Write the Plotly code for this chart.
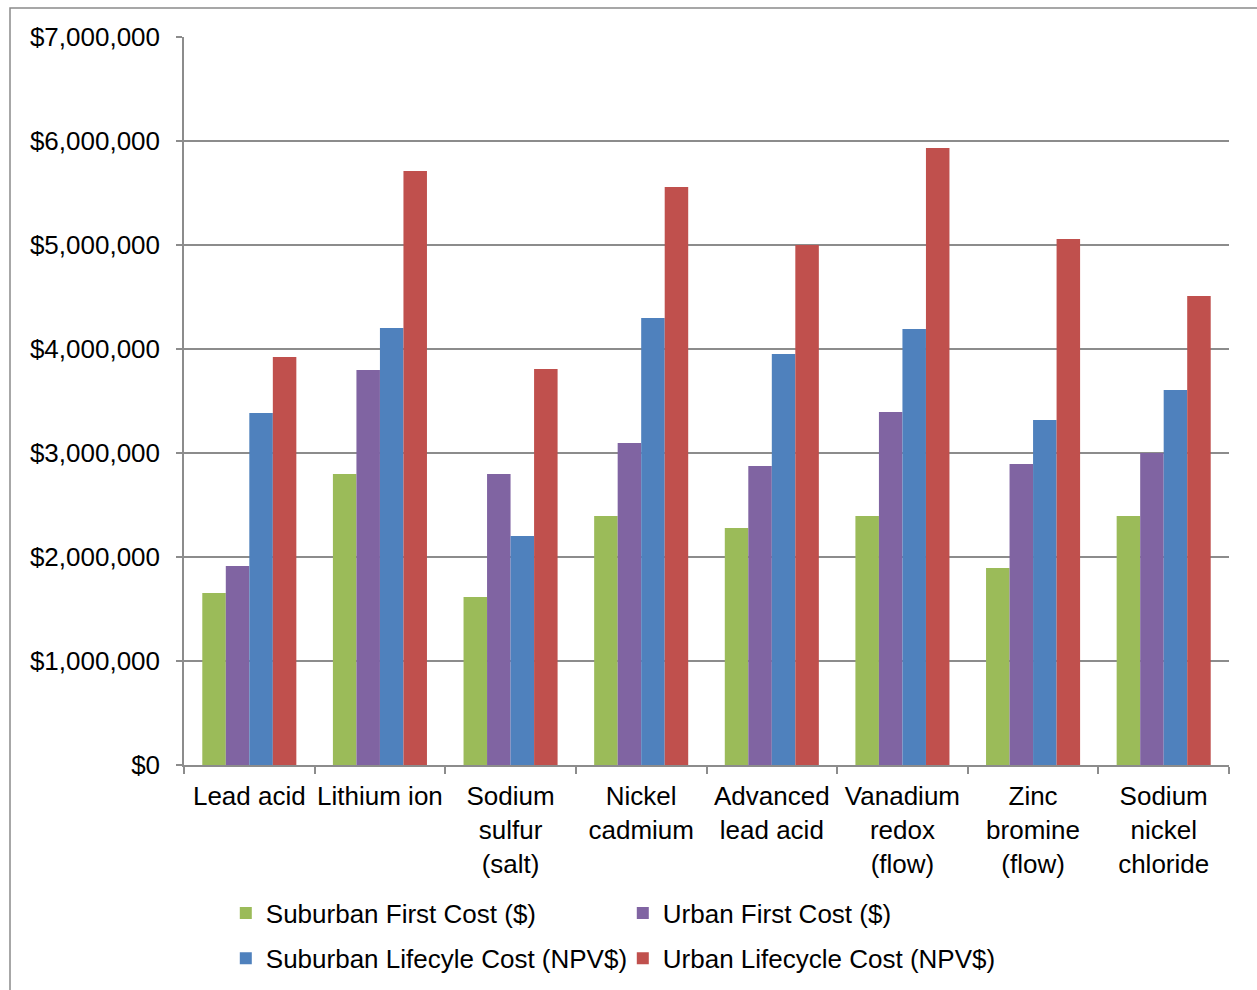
import plotly.graph_objects as go

categories = [
    "Lead acid", "Lithium ion", "Sodium<br>sulfur<br>(salt)", "Nickel<br>cadmium",
    "Advanced<br>lead acid", "Vanadium<br>redox<br>(flow)", "Zinc<br>bromine<br>(flow)",
    "Sodium<br>nickel<br>chloride",
]

suburban_first = [1654000, 2798000, 1615000, 2394000, 2279000, 2394000, 1894000, 2394000]
urban_first = [1913000, 3798000, 2798000, 3096000, 2875000, 3394000, 2894000, 3000000]
suburban_lifecycle = [3385000, 4202000, 2202000, 4298000, 3952000, 4192000, 3317000, 3606000]
urban_lifecycle = [3923000, 5712000, 3808000, 5558000, 5000000, 5933000, 5058000, 4510000]

series_names = [
    "Suburban First Cost ($)", "Urban First Cost ($)",
    "Suburban Lifecyle Cost (NPV$)", "Urban Lifecycle Cost (NPV$)",
]
series_values = [suburban_first, urban_first, suburban_lifecycle, urban_lifecycle]
series_colors = ["#9BBB59", "#8064A2", "#4F81BD", "#C0504D"]
series_legend = ["legend", "legend", "legend2", "legend2"]

y_ticks = [0, 1000000, 2000000, 3000000, 4000000, 5000000, 6000000, 7000000]

FONT = "Liberation Sans, Arial, sans-serif"
FS = 26
GRID = "#8c8c8c"

fig = go.Figure()
for name, vals, color, lg in zip(series_names, series_values, series_colors, series_legend):
    fig.add_trace(go.Bar(
        x=categories, y=vals, name=name, legend=lg,
        marker=dict(color=color, line=dict(width=0)),
    ))

legend_common = dict(
    orientation="h", xanchor="left", yanchor="middle",
    font=dict(family=FONT, size=FS, color="#000000"),
    bgcolor="rgba(0,0,0,0)", itemwidth=30, entrywidth=352,
    traceorder="normal",
)

fig.update_layout(
    width=1257, height=990,
    margin=dict(l=184, r=28, t=37, b=225, autoexpand=False),
    paper_bgcolor="white", plot_bgcolor="white",
    barmode="group", bargap=0.28, bargroupgap=0,
    font=dict(family=FONT, size=FS, color="#000000"),
    legend=dict(x=0.040, y=-0.2036, **legend_common),
    legend2=dict(x=0.040, y=-0.2656, **legend_common),
    xaxis=dict(
        showline=True, linecolor=GRID, linewidth=1.5, automargin=False,
        ticks="outside", tickson="boundaries", ticklen=7, tickcolor=GRID, tickwidth=1.5,
        showgrid=False, tickfont=dict(family=FONT, size=FS, color="#000000"),
        tickangle=0, ticklabelstandoff=7,
    ),
    yaxis=dict(
        range=[0, 7000000], tickvals=y_ticks, tickformat="$,.0f",
        showline=True, linecolor=GRID, linewidth=1.5, automargin=False,
        ticks="outside", ticklen=6, tickcolor=GRID, tickwidth=1.5,
        showgrid=True, gridcolor=GRID, gridwidth=1.5,
        zeroline=False, ticklabelstandoff=11,
        tickfont=dict(family=FONT, size=FS, color="#000000"),
    ),
    shapes=[dict(
        type="rect", xref="paper", yref="paper",
        x0=(10 - 184) / 1045, x1=1.2, y0=-0.6, y1=1 + (37 - 8) / 728,
        line=dict(color="#8a8a8a", width=1.5), fillcolor="rgba(0,0,0,0)", layer="below",
    )],
)

fig.write_html("out.html")
